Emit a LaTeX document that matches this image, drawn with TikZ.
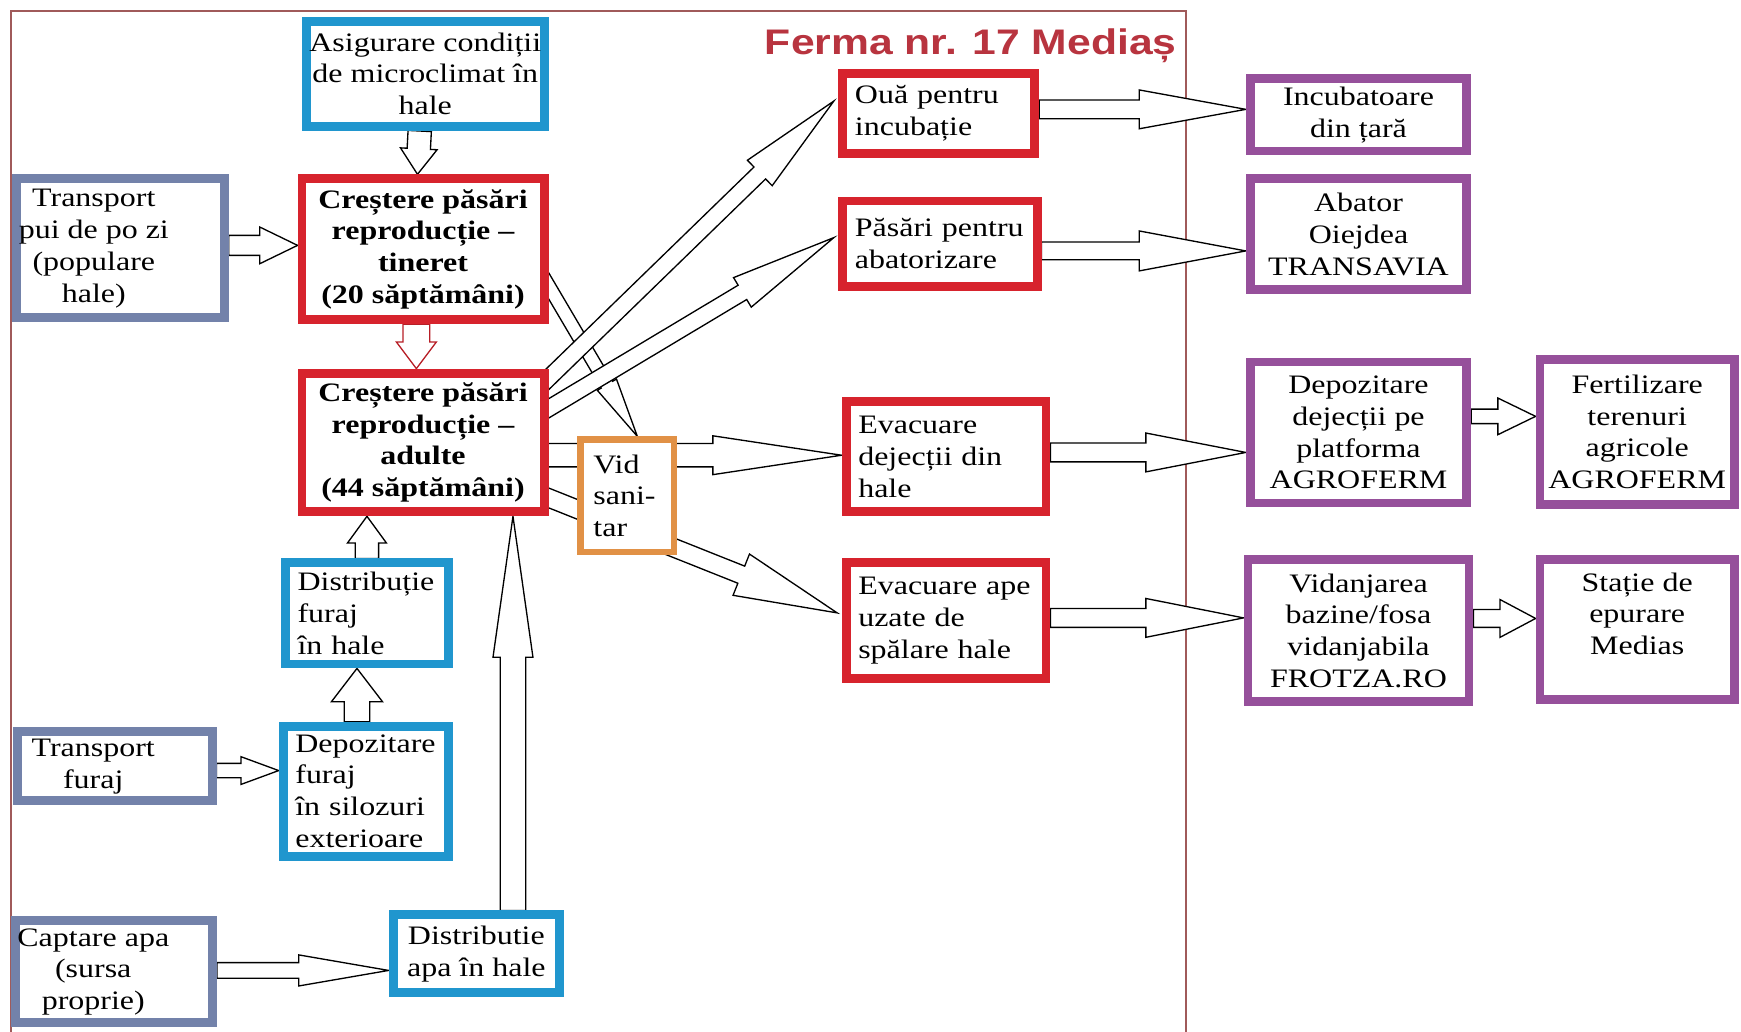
\documentclass[tikz,border=0pt]{standalone}
\usepackage{fontspec}
\setmainfont{Liberation Serif}[FakeStretch=1.2]
\newfontfamily\titlefont{Liberation Sans}[FakeStretch=1.2]
\usepackage{tikz}
\usetikzlibrary{calc,backgrounds}
\definecolor{frmblue}{HTML}{2096CE}
\definecolor{frmred}{HTML}{D7232D}
\definecolor{frmpurple}{HTML}{96509B}
\definecolor{frmslate}{HTML}{7382AA}
\definecolor{frmorange}{HTML}{E19146}
\definecolor{frmtitle}{HTML}{B8343F}
\definecolor{frmframe}{HTML}{A05A5A}
\tikzset{
  box/.style={draw, line width=4pt, fill=white, inner xsep=1pt, inner ysep=1pt,
    align=center, font=\fontsize{12}{14.3}\selectfont},
  bluebox/.style={box, draw=frmblue},
  redbox/.style={box, draw=frmred},
  purplebox/.style={box, draw=frmpurple},
  slatebox/.style={box, draw=frmslate},
  leftbox/.style={align=left, inner xsep=5.5pt},
  boldtext/.style={font=\fontsize{12}{14.3}\selectfont\bfseries},
  blockarrow/.style={draw=black, fill=white, line width=0.6pt, line join=miter}
}
% block arrow: [opts]{start}{tip}{shaft half}{head half}{head length}
\newcommand{\fatarrow}[6][]{%
  \coordinate (fa-s) at (#2);
  \coordinate (fa-t) at (#3);
  \coordinate (fa-h) at ($(fa-t)!#6!(fa-s)$);
  \draw[blockarrow,#1] ($(fa-s)!#4!90:(fa-t)$) -- ($(fa-h)!#4!90:(fa-t)$)
    -- ($(fa-h)!#5!90:(fa-t)$) -- (fa-t) -- ($(fa-h)!#5!-90:(fa-t)$)
    -- ($(fa-h)!#4!-90:(fa-t)$) -- ($(fa-s)!#4!-90:(fa-t)$) -- cycle;
}
\newcommand{\leftshifted}[2]{\begin{tabular}{@{}c@{}}#2\end{tabular}\hspace*{#1}}

\begin{document}
\begin{tikzpicture}[x=0.5pt, y=-0.5pt]
  \useasboundingbox (0,0) rectangle (1568,929);

  % Farm boxes
  \node[font=\titlefont\bfseries\fontsize{16}{18}\selectfont, text=frmtitle,
    anchor=east, inner sep=0pt] (title) at (1060,41) {Ferma nr. 17 Mediaș};
  \node[bluebox, minimum width=107pt, minimum height=47.5pt] (asig) at (383,66.5)
    {Asigurare condiții\\de microclimat în\\hale};
  \node[redbox, boldtext, minimum width=109pt, minimum height=63.5pt] (tineret) at (381,224.5)
    {Creștere păsări\\reproducție --\\tineret\\(20 săptămâni)};
  \node[redbox, boldtext, minimum width=109pt, minimum height=62.5pt] (adulte) at (381,398.5)
    {Creștere păsări\\reproducție --\\adulte\\(44 săptămâni)};
  \node[slatebox, minimum width=92.5pt, minimum height=62.5pt] (transpui) at (108.5,223.5)
    {\leftshifted{24pt}{Transport\\pui de po zi\\(populare\\hale)}};
  \node[bluebox, leftbox, text width=62.5pt, minimum height=45.5pt] (distfuraj) at (330.5,552.5)
    {Distribuție\\furaj\\în~hale};
  \node[bluebox, leftbox, text width=63.5pt, minimum height=58.5pt] (depfuraj) at (329.5,712.5)
    {Depozitare\\furaj\\în~silozuri\\exterioare};
  \node[slatebox, minimum width=87.5pt, minimum height=31pt] (transfuraj) at (103.5,690)
    {\leftshifted{19.5pt}{Transport\\furaj}};
  \node[slatebox, minimum width=86.5pt, minimum height=46pt] (captare) at (102.5,875)
    {\leftshifted{18.5pt}{Captare apa\\(sursa\\proprie)}};
  \node[bluebox, minimum width=75pt, minimum height=35pt] (distapa) at (429,859)
    {Distributie\\apa în hale};
  \node[redbox, leftbox, text width=75.5pt, minimum height=36pt] (oua) at (845.5,102)
    {Ouă~pentru\\incubație};
  \node[redbox, leftbox, text width=76.5pt, minimum height=38.5pt] (pasari) at (846.5,219.5)
    {Păsări~pentru\\abatorizare};
  \node[redbox, leftbox, text width=79pt, minimum height=49.5pt] (evdej) at (852,411.5)
    {Evacuare\\dejecții~din\\hale};
  \node[redbox, leftbox, text width=79pt, minimum height=52pt] (evape) at (852,559)
    {Evacuare~ape\\uzate~de\\spălare~hale};

  % Outside partners
  \node[purplebox, minimum width=97.5pt, minimum height=32.5pt] (incub) at (1223.5,103.5)
    {Incubatoare\\din țară};
  \node[purplebox, minimum width=97.5pt, minimum height=50pt] (abator) at (1223.5,211)
    {Abator\\Oiejdea\\TRANSAVIA};
  \node[purplebox, minimum width=97.5pt, minimum height=63.5pt] (depdej) at (1223.5,389.5)
    {Depozitare\\dejecții pe\\platforma\\AGROFERM};
  \node[purplebox, minimum width=87.5pt, minimum height=65pt] (fertil) at (1474.5,389)
    {Fertilizare\\terenuri\\agricole\\AGROFERM};
  \node[purplebox, minimum width=99.5pt, minimum height=64pt] (vidanj) at (1223.5,568)
    {Vidanjarea\\bazine/fosa\\vidanjabila\\FROTZA.RO};
  \node[purplebox, minimum width=87.5pt, minimum height=63pt] (statie) at (1474.5,567)
    {Stație de\\epurare\\Medias\\\mbox{}};

  % Vid sanitar sits over the arrows
  \node[box, draw=frmorange, line width=3pt, leftbox, inner xsep=5.75pt, text width=30.5pt,
    minimum height=50.5pt] (vid) at (565,446.5) {Vid\\sani-\\tar};

  \begin{scope}[on background layer]
    \fill[white] (0,0) rectangle (1568,929);
    \draw[frmframe, line width=0.7pt] (10,10) rectangle (1068,940);
    % flows inside the farm
    \fatarrow{$(tineret.east)+(-6,22.5)$}{$(vid.north)+(9,0)$}{3pt}{5pt}{27pt}
    \fatarrow{$(asig.south)+(-5,0)$}{$(tineret.north)+(-5,0)$}{5.25pt}{8.25pt}{11.5pt}
    \fatarrow[draw=frmred!85!black]{$(tineret.south)+(-6,0)$}{$(adulte.north)+(-6,0)$}{6pt}{9pt}{12pt}
    \fatarrow{$(transpui.east)+(0,-2.5)$}{$(transpui.east -| tineret.west)+(0,-2.5)$}{4.5pt}{8.25pt}{17pt}
    \fatarrow{distfuraj.north}{distfuraj.north |- adulte.south}{5.25pt}{8.75pt}{12pt}
    \fatarrow{$(depfuraj.north)+(-8,0)$}{$(depfuraj.north |- distfuraj.south)+(-8,0)$}{5.75pt}{11.5pt}{15pt}
    \fatarrow{$(transfuraj.east)+(0,4)$}{$(transfuraj.east -| depfuraj.west)+(0,4)$}{3.25pt}{6.25pt}{17pt}
    \fatarrow{$(captare.east)+(0,-1)$}{$(captare.east -| distapa.west)+(0,-1)$}{3.5pt}{7pt}{40.5pt}
    \fatarrow{$(distapa.north)+(33,0)$}{$(distapa.north |- adulte.south)+(33,0)$}{5.75pt}{9pt}{63.5pt}
    \fatarrow{$(adulte.east)+(-6,-52)$}{$(oua.west)+(-4,-11)$}{3.75pt}{8pt}{46.5pt}
    \fatarrow{$(adulte.east)+(-6,-27)$}{$(pasari.west)+(-4,-5.5)$}{3.75pt}{7.75pt}{48pt}
    \fatarrow{$(adulte.east)+(-6,11.5)$}{$(evdej.west)+(0,-1.5)$}{5.25pt}{8.75pt}{58pt}
    \fatarrow{$(adulte.east)+(-6,47.5)$}{$(evape.west)+(-4,-7)$}{4.15pt}{10pt}{46.5pt}
    % flows to partners
    \fatarrow{$(oua.east)+(0,-3.5)$}{$(oua.east -| incub.west)+(0,-3.5)$}{4.25pt}{8.75pt}{48pt}
    \fatarrow{$(pasari.east)+(0,6.5)$}{$(pasari.east -| abator.west)+(0,6.5)$}{4pt}{9pt}{48pt}
    \fatarrow{$(evdej.east)+(0,-4)$}{$(evdej.east -| depdej.west)+(0,-4)$}{4.25pt}{8.75pt}{45pt}
    \fatarrow{$(evape.east)+(0,-2.5)$}{$(evape.east -| vidanj.west)+(0,-2.5)$}{4.25pt}{8.75pt}{44pt}
    \fatarrow{$(depdej.east)+(0,-14.5)$}{$(depdej.east -| fertil.west)+(0,-14.5)$}{3.25pt}{8.25pt}{17pt}
    \fatarrow{$(vidanj.east)+(0,-11)$}{$(vidanj.east -| statie.west)+(0,-11)$}{4pt}{8.5pt}{16pt}
  \end{scope}
\end{tikzpicture}
\end{document}
